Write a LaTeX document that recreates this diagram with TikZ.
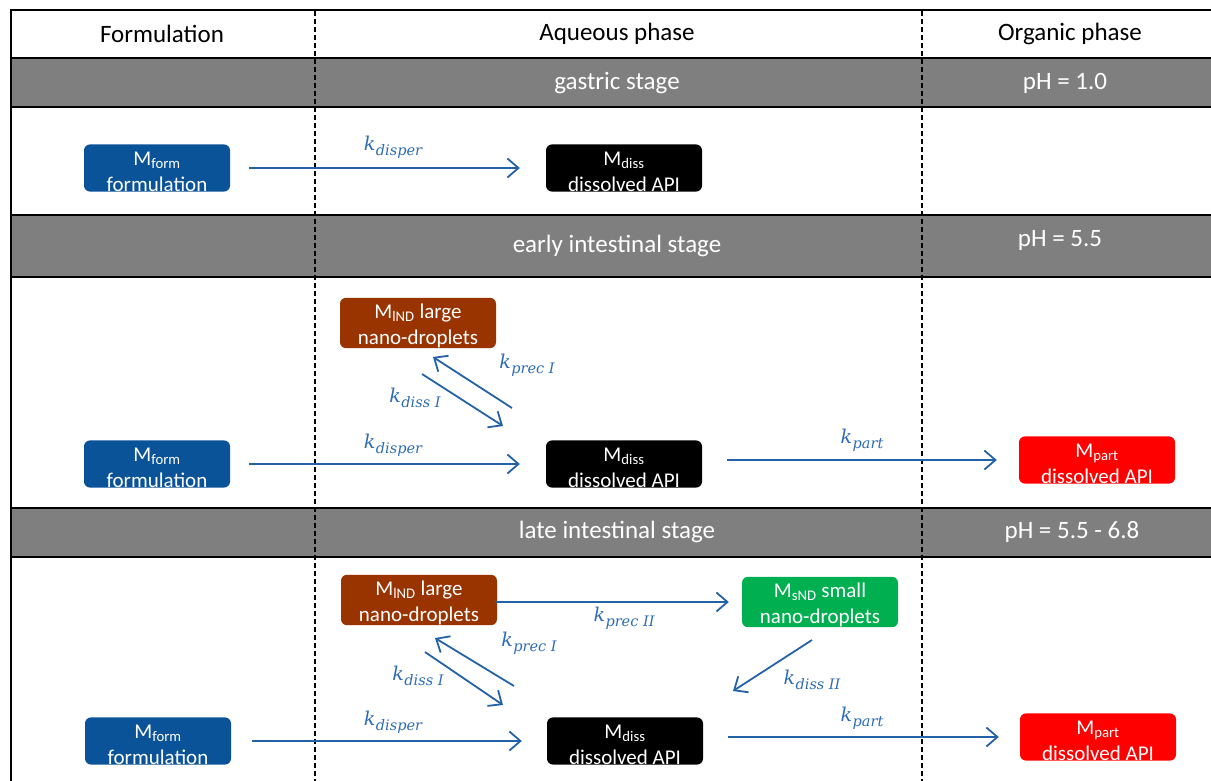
\documentclass[tikz,border=0pt]{standalone}
\usepackage{fontspec}
\setmainfont{Carlito}
\newfontfamily\ratefont{DejaVu Serif}
\usetikzlibrary{arrows.meta}
\definecolor{bandgray}{RGB}{127,127,127}
\definecolor{boxblue}{RGB}{11,83,153}
\definecolor{boxbrown}{RGB}{153,51,0}
\definecolor{boxgreen}{RGB}{0,176,80}
\definecolor{boxred}{RGB}{255,0,0}
\definecolor{arrblue}{RGB}{36,98,168}
\definecolor{lblblue}{RGB}{46,108,178}
\newcommand\ratek[1]{{\ratefont\itshape\fontsize{19}{19}\selectfont k\kern0.5pt\raisebox{-4.8pt}{\fontsize{14.5}{15}\selectfont #1}}}
\newcommand\toprule{\rule{0pt}{21pt}}
\begin{document}
\begin{tikzpicture}[x=1pt,y=-1pt,
  frameline/.style={line width=2pt,black},
  band/.style={fill=bandgray},
  divider/.style={line width=1.6pt,black,dash pattern=on 5pt off 3pt},
  headtext/.style={font=\fontsize{25}{26}\selectfont,text=black,inner sep=0pt},
  bandtext/.style={font=\fontsize{25}{26}\selectfont,text=white,inner sep=0pt},
  stagebox/.style={rounded corners=6pt,minimum width=156pt,minimum height=45pt,inner sep=0pt,
    text=white,align=center,font=\fontsize{21}{23}\selectfont},
  formbox/.style={stagebox,fill=boxblue,minimum width=146pt},
  dissbox/.style={stagebox,fill=black},
  lndbox/.style={stagebox,fill=boxbrown},
  sndbox/.style={stagebox,fill=boxgreen},
  partbox/.style={stagebox,fill=boxred},
  flow/.style={line width=1.8pt,arrblue,-{Straight Barb[length=11pt,width=19pt,line width=1.8pt]}},
  rate/.style={text=lblblue,inner sep=0pt}
]
\useasboundingbox (0,0) rectangle (1211,780);
\clip (0,0) rectangle (1211,780);

% bands
\fill[band] (11,58) rectangle (1215,107);
\fill[band] (11,215) rectangle (1215,277);
\fill[band] (11,508) rectangle (1215,557);

% frame lines
\draw[frameline] (11,10) -- (1215,10);
\draw[frameline] (11,58) -- (1215,58);
\draw[frameline] (11,107) -- (1215,107);
\draw[frameline] (11,215) -- (1215,215);
\draw[frameline] (11,277) -- (1215,277);
\draw[frameline] (11,508) -- (1215,508);
\draw[frameline] (11,557) -- (1215,557);
\draw[frameline] (11,9) -- (11,782);

% dashed dividers
\draw[divider] (315,11) -- (315,782);
\draw[divider] (922,11) -- (922,782);

% header texts
\node[headtext] (hform) at (162,34) {Formulation};
\node[headtext] (haq) at (617,34) {Aqueous phase};
\node[headtext] (horg) at (1070,34) {Organic phase};

% band texts
\node[bandtext] (s1) at (617,83) {gastric stage};
\node[bandtext] (p1) at (1065,83) {pH = 1.0};
\node[bandtext] (s2) at (617,246) {early intestinal stage};
\node[bandtext] (p2) at (1060,240) {pH = 5.5};
\node[bandtext] (s3) at (617,532) {late intestinal stage};
\node[bandtext] (p3) at (1072,532) {pH = 5.5 - 6.8};

% ---- gastric stage
\node[formbox] (form1) at (157,168) {\toprule M\textsubscript{form}\\[3pt]formulation};
\node[dissbox] (diss1) at (624,168) {\toprule M\textsubscript{diss}\\[3pt]dissolved API};
\draw[flow,shorten <=19pt,shorten >=26pt] (form1.east) -- (diss1.west);
\node[rate] (kd1) at (393,147) {\ratek{disper}};

% ---- early intestinal stage
\node[lndbox] (lnd2) at (418,323) {\toprule M\textsubscript{lND} large\\[3pt]nano-droplets};
\node[formbox] (form2) at (157,464) {\toprule M\textsubscript{form}\\[3pt]formulation};
\node[dissbox] (diss2) at (624,464) {\toprule M\textsubscript{diss}\\[3pt]dissolved API};
\node[partbox] (part2) at (1097,460) {\toprule M\textsubscript{part}\\[3pt]dissolved API};
\draw[flow,shorten <=19pt,shorten >=26pt] (form2.east) -- (diss2.west);
\node[rate] (kd2) at (393,445) {\ratek{disper}};
\draw[flow,shorten <=25pt,shorten >=22pt] (diss2.east |- part2.west) -- (part2.west);
\node[rate] (kp2) at (862,440) {\ratek{part}};
\coordinate (d2a) at (422,374);
\coordinate (d2b) at (503,426);
\coordinate (p2a) at (512,408);
\coordinate (p2b) at (433,357);
\draw[flow] (d2a) -- (d2b);
\draw[flow] (p2a) -- (p2b);
\node[rate] (kpi2) at (527,365) {\ratek{prec I}};
\node[rate] (kdi2) at (415,398) {\ratek{diss I}};

% ---- late intestinal stage
\node[lndbox] (lnd3) at (419,600) {\toprule M\textsubscript{lND} large\\[3pt]nano-droplets};
\node[sndbox] (snd3) at (820,602) {\toprule M\textsubscript{sND} small\\[3pt]nano-droplets};
\node[formbox] (form3) at (158,741) {\toprule M\textsubscript{form}\\[3pt]formulation};
\node[dissbox] (diss3) at (625,741) {\toprule M\textsubscript{diss}\\[3pt]dissolved API};
\node[partbox] (part3) at (1098,737) {\toprule M\textsubscript{part}\\[3pt]dissolved API};
\draw[flow,shorten <=-2pt,shorten >=13pt] (lnd3.east |- snd3.west) -- (snd3.west);
\node[rate] (kpii3) at (624,618) {\ratek{prec II}};
\draw[flow,shorten <=21pt,shorten >=25pt] (form3.east) -- (diss3.west);
\node[rate] (kd3) at (393,722) {\ratek{disper}};
\draw[flow,shorten <=25pt,shorten >=21pt] (diss3.east |- part3.west) -- (part3.west);
\node[rate] (kp3) at (862,718) {\ratek{part}};
\coordinate (d3a) at (425,652);
\coordinate (d3b) at (503,705);
\coordinate (p3a) at (514,686);
\coordinate (p3b) at (435,638);
\coordinate (s3a) at (812,640);
\coordinate (s3b) at (733,691);
\draw[flow] (d3a) -- (d3b);
\draw[flow] (p3a) -- (p3b);
\draw[flow] (s3a) -- (s3b);
\node[rate] (kpi3) at (529,643) {\ratek{prec I}};
\node[rate] (kdi3) at (418,676) {\ratek{diss I}};
\node[rate] (kdii3) at (812,680) {\ratek{diss II}};
\end{tikzpicture}
\end{document}
